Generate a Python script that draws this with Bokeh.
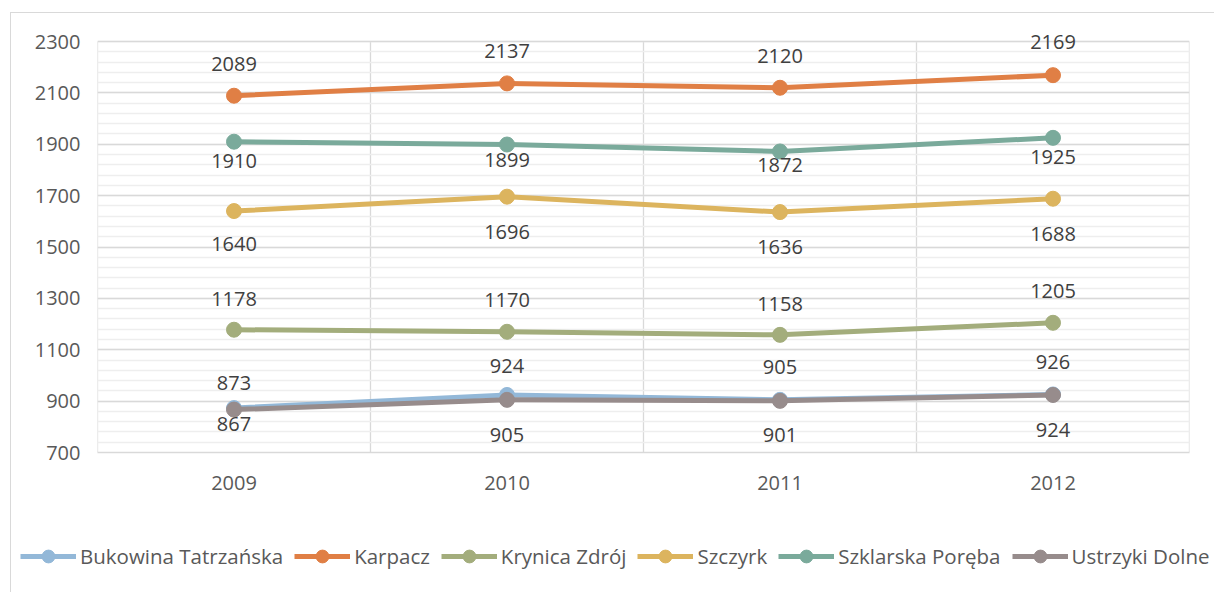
from bokeh.plotting import figure
from bokeh.layouts import column
from bokeh.models import (Range1d, FixedTicker, Legend, LegendItem, ColumnDataSource)
from bokeh.core.properties import value
from bokeh.embed import file_html
from bokeh.resources import INLINE

# ---- data ----
years = ["2009", "2010", "2011", "2012"]
series_names = ["Bukowina Tatrzańska", "Karpacz", "Krynica Zdrój", "Szczyrk",
                "Szklarska Poręba", "Ustrzyki Dolne"]
bukowina = [873, 924, 905, 926]
karpacz = [2089, 2137, 2120, 2169]
krynica = [1178, 1170, 1158, 1205]
szczyrk = [1640, 1696, 1636, 1688]
szklarska = [1910, 1899, 1872, 1925]
ustrzyki = [867, 905, 901, 924]
y_ticks = [700, 900, 1100, 1300, 1500, 1700, 1900, 2100, 2300]

# ---- styling ----
colors = ["#93b8d8", "#e07f45", "#a3ad7c", "#dcb45e", "#7aaa9b", "#978c8c"]
# label offsets in screen px (positive = above the point)
label_up = [
    [25, 29, 33, 32],
    [32, 32, 32, 33],
    [31, 32, 31, 32],
    [-33, -35, -35, -35],
    [-19, -15, -14, -19],
    [-14, -35, -34, -35],
]
FONT = "Open Sans"
GRID = "#d9d9d9"

all_series = [bukowina, karpacz, krynica, szczyrk, szklarska, ustrzyki]
xs = [i + 0.5 for i in range(len(years))]
y_lo, y_hi = y_ticks[0], y_ticks[-1]

p = figure(width=1195, height=489, output_backend="svg", toolbar_location=None,
           x_range=Range1d(0, len(years)), y_range=Range1d(y_lo, y_hi + 39),
           min_border_left=86, min_border_right=17, min_border_top=18,
           min_border_bottom=50, frame_width=1092, frame_height=421)
p.frame_align = False
p.outline_line_color = None
p.background_fill_color = "white"
p.border_fill_color = "white"

# axes
p.yaxis.ticker = FixedTicker(ticks=y_ticks, minor_ticks=list(range(y_lo, y_hi + 1, 40)))
p.xaxis.ticker = FixedTicker(ticks=xs)
p.xaxis.major_label_overrides = {x: y for x, y in zip(xs, years)}
for ax in (p.xaxis, p.yaxis):
    ax.major_tick_line_color = None
    ax.minor_tick_line_color = None
    ax.major_label_text_font = FONT
    ax.major_label_text_font_size = "20px"
    ax.major_label_text_color = "#595959"
p.yaxis.axis_line_color = None
p.xaxis.axis_line_color = GRID
p.xaxis.axis_line_width = 1.3
p.yaxis.major_label_standoff = 11
p.xaxis.major_label_standoff = 17

# grids
p.ygrid.grid_line_color = GRID
p.ygrid.grid_line_width = 1.3
p.ygrid.minor_grid_line_color = "#eeeeee"
p.ygrid.minor_grid_line_width = 1.3
p.xgrid.grid_line_color = None
bounds = list(range(len(years) + 1))
p.segment(x0=bounds, y0=[y_lo] * len(bounds), x1=bounds, y1=[y_hi] * len(bounds),
          line_color=GRID, line_width=1.3, level="underlay")

# legend host figure (below the chart)
lf = figure(width=1203, height=90, output_backend="svg", toolbar_location=None,
            x_range=Range1d(0, 1), y_range=Range1d(0, 1),
            min_border_left=0, min_border_right=0, min_border_top=0,
            min_border_bottom=0)
lf.frame_align = False
lf.axis.visible = False
lf.grid.visible = False
lf.outline_line_color = None
lf.border_fill_color = "white"

nan = float("nan")
items = []
for name, vals, col in zip(series_names, all_series, colors):
    src = ColumnDataSource(dict(x=xs, y=vals))
    p.line("x", "y", source=src, line_color=col, line_width=5)
    p.scatter("x", "y", source=src, size=15, fill_color=col, line_color=col)
    dummy = ColumnDataSource(dict(x=[nan], y=[nan]))
    lr = lf.line("x", "y", source=dummy, line_color=col, line_width=5)
    sr = lf.scatter("x", "y", source=dummy, size=13, fill_color=col, line_color=col)
    items.append(LegendItem(label=name, renderers=[lr, sr]))

for vals, ups in zip(all_series, label_up):
    src = ColumnDataSource(dict(x=xs, y=vals, t=[str(v) for v in vals],
                                off=[-u for u in ups]))
    p.text("x", "y", text="t", source=src, y_offset="off",
           text_align="center", text_baseline="middle",
           text_font=value(FONT), text_font_size="20px", text_color="#404040")

legend = Legend(items=items, orientation="horizontal", location=(9, 20),
                glyph_width=56, glyph_height=32, label_standoff=4, spacing=11,
                padding=0, margin=0, border_line_color=None,
                background_fill_alpha=0, label_text_font=FONT,
                label_text_font_size="20.5px", label_text_color="#595959")
lf.add_layout(legend, "center")

layout = column(p, lf, spacing=0, margin=(12, 0, 0, 10),
                styles={"border-left": "1px solid #d9d9d9",
                        "border-top": "1px solid #d9d9d9"})

open("out.html", "w").write(file_html(layout, INLINE))
